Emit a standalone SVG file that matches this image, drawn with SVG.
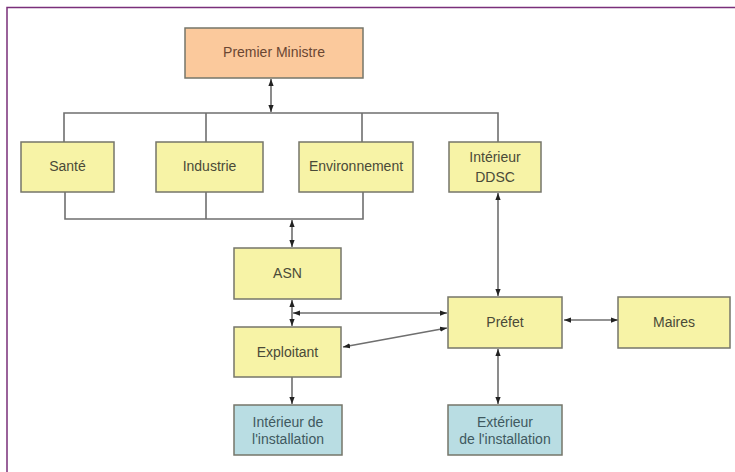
<svg xmlns="http://www.w3.org/2000/svg" width="735" height="472" viewBox="0 0 735 472">
<style>
  .box{stroke:#76766a;stroke-width:1.5}
  .y{fill:#f7f3a6}
  .o{fill:#fbc99c}
  .b{fill:#b9dde3}
  .t{font-family:"Liberation Sans",Arial,sans-serif;font-size:14px;text-anchor:middle;fill:#4a4a38}
  .tb{fill:#3f5960}
  .to{fill:#6a4632}
  .c{fill:none;stroke:#6f6f6f;stroke-width:1.6}
  .a{marker-start:url(#ah);marker-end:url(#ah)}
  .ae{marker-end:url(#ah)}
</style>
<defs>
  <marker id="ah" viewBox="0 0 8 6" refX="8" refY="3" markerWidth="7" markerHeight="6" markerUnits="userSpaceOnUse" orient="auto-start-reverse">
    <path d="M0,0 L8,3 L0,6 z" fill="#222"/>
  </marker>
</defs>
<rect x="0" y="0" width="735" height="472" fill="#ffffff"/>
<path d="M7,472 V7.5 H735" fill="none" stroke="#7a2f7a" stroke-width="1.5"/>

<g id="connectors">
  <path class="c" d="M64,142 V113 H498 V142 M206,113 V142 M362,113 V142"/>
  <path class="c" d="M65,192 V219 H363 V192 M206,192 V219"/>
  <path class="c a" d="M271,79 V112"/>
  <path class="c a" d="M292,220 V247"/>
  <path class="c a" d="M292,300 V326"/>
  <path class="c a" d="M293,313 H447"/>
  <path class="c a" d="M447,328 L343,347"/>
  <path class="c a" d="M498,193 V296"/>
  <path class="c a" d="M564,320 H618"/>
  <path class="c a" d="M498,349 V404"/>
  <path class="c ae" d="M292,377 V404"/>
</g>

<g id="premier-ministre">
  <rect class="box o" x="185" y="28" width="178" height="50"/>
  <text class="t to" x="274" y="57">Premier Ministre</text>
</g>
<g id="sante">
  <rect class="box y" x="21" y="142" width="93" height="50"/>
  <text class="t" x="67.5" y="171">Santé</text>
</g>
<g id="industrie">
  <rect class="box y" x="156" y="142" width="107" height="50"/>
  <text class="t" x="209.5" y="171">Industrie</text>
</g>
<g id="environnement">
  <rect class="box y" x="299" y="142" width="114" height="50"/>
  <text class="t" x="356" y="171">Environnement</text>
</g>
<g id="interieur-ddsc">
  <rect class="box y" x="449" y="142" width="92" height="50"/>
  <text class="t" x="495" y="162">Intérieur</text>
  <text class="t" x="495" y="182">DDSC</text>
</g>
<g id="asn">
  <rect class="box y" x="234" y="248" width="107" height="51"/>
  <text class="t" x="287.5" y="278">ASN</text>
</g>
<g id="exploitant">
  <rect class="box y" x="234" y="327" width="107" height="50"/>
  <text class="t" x="287.5" y="357">Exploitant</text>
</g>
<g id="prefet">
  <rect class="box y" x="448" y="297" width="114" height="51"/>
  <text class="t" x="505" y="327">Préfet</text>
</g>
<g id="maires">
  <rect class="box y" x="618" y="297" width="112" height="51"/>
  <text class="t" x="674" y="327">Maires</text>
</g>
<g id="interieur-installation">
  <rect class="box b" x="234" y="405" width="108" height="50"/>
  <text class="t tb" x="288" y="427">Intérieur de</text>
  <text class="t tb" x="288" y="444">l'installation</text>
</g>
<g id="exterieur-installation">
  <rect class="box b" x="448" y="405" width="114" height="50"/>
  <text class="t tb" x="505" y="427">Extérieur</text>
  <text class="t tb" x="505" y="444">de l'installation</text>
</g>
</svg>
